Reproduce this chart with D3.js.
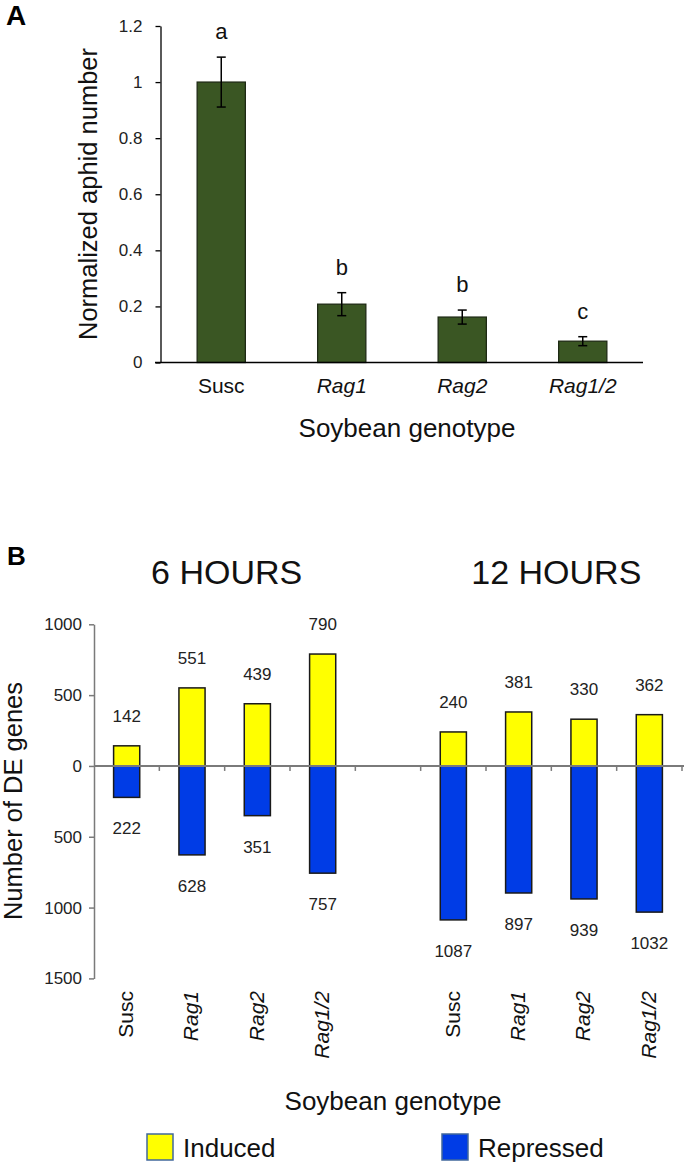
<!DOCTYPE html>
<html>
<head>
<meta charset="utf-8">
<script src="https://cdn.jsdelivr.net/npm/d3@7"></script>
<style>
  html, body { margin: 0; padding: 0; background: #ffffff; }
  svg { display: block; font-family: "Liberation Sans", Arial, sans-serif; }
</style>
</head>
<body>
<script>
// ---------- Panel A data ----------
const catsA = ["Susc", "Rag1", "Rag2", "Rag1/2"];
const italicA = [false, true, true, true];
const meansA = [1.0, 0.208, 0.162, 0.076];
const errA = [0.089, 0.041, 0.025, 0.016];
const lettersA = ["a", "b", "b", "c"];
const ticksA = [0, 0.2, 0.4, 0.6, 0.8, 1.0, 1.2];

// ---------- Panel B data ----------
const catsB = ["Susc", "Rag1", "Rag2", "Rag1/2"];
const italicB = [false, true, true, true];
const groupsB = ["6 HOURS", "12 HOURS"];
const induced6 = [142, 551, 439, 790];
const repressed6 = [222, 628, 351, 757];
const induced12 = [240, 381, 330, 362];
const repressed12 = [1087, 897, 939, 1032];
const ticksB = [1000, 500, 0, -500, -1000, -1500];
const legendB = ["Induced", "Repressed"];

const W = 685, H = 1165;
const svg = d3.select("body").append("svg").attr("width", W).attr("height", H);

// ================= PANEL A =================
const xA = d3.scaleBand().domain(catsA).range([161, 643]).paddingInner(0.6).paddingOuter(0.3);
const yA = d3.scaleLinear().domain([0, 1.2]).range([362.5, 26]);

svg.append("text").attr("x", 6).attr("y", 25).attr("font-size", 28).attr("font-weight", "bold").attr("fill", "#000").text("A");

const gA = svg.append("g");
const axA = gA.append("g").attr("transform", "translate(160.5,0)")
  .call(d3.axisLeft(yA).tickValues(ticksA).tickSize(5).tickSizeOuter(0).tickPadding(13)
    .tickFormat(d => d3.format("~g")(d)));
axA.attr("font-size", null).attr("font-family", null);
axA.selectAll("path, line").attr("stroke", "#000").attr("stroke-width", 1.3);
axA.selectAll("text").style("font-size", "17px").attr("fill", "#222");

const dataA = catsA.map((c, i) => ({ c, v: meansA[i], e: errA[i], l: lettersA[i], it: italicA[i] }));

gA.selectAll("rect.bar").data(dataA).join("rect")
  .attr("x", d => xA(d.c)).attr("width", xA.bandwidth())
  .attr("y", d => yA(d.v)).attr("height", d => yA(0) - yA(d.v))
  .attr("fill", "#3a5623").attr("stroke", "#1e2a14").attr("stroke-width", 1.3);

// x axis line
gA.append("line").attr("x1", 155).attr("x2", 643).attr("y1", yA(0)).attr("y2", yA(0))
  .attr("stroke", "#000").attr("stroke-width", 1.3);

// error bars
const cap = 4.5;
dataA.forEach(d => {
  const cx = xA(d.c) + xA.bandwidth() / 2;
  gA.append("line").attr("x1", cx).attr("x2", cx).attr("y1", yA(d.v + d.e)).attr("y2", yA(d.v - d.e)).attr("stroke", "#000").attr("stroke-width", 1.5);
  gA.append("line").attr("x1", cx - cap).attr("x2", cx + cap).attr("y1", yA(d.v + d.e)).attr("y2", yA(d.v + d.e)).attr("stroke", "#000").attr("stroke-width", 1.5);
  gA.append("line").attr("x1", cx - cap).attr("x2", cx + cap).attr("y1", yA(d.v - d.e)).attr("y2", yA(d.v - d.e)).attr("stroke", "#000").attr("stroke-width", 1.5);
  gA.append("text").attr("x", cx).attr("y", yA(d.v + d.e) - 18).attr("text-anchor", "middle")
    .attr("font-size", 22).attr("fill", "#111").text(d.l);
  gA.append("text").attr("x", cx).attr("y", 393).attr("text-anchor", "middle")
    .attr("font-size", 21).attr("font-style", d.it ? "italic" : "normal").attr("fill", "#111").text(d.c);
});

gA.append("text").attr("transform", "translate(97,194) rotate(-90)").attr("text-anchor", "middle")
  .attr("font-size", 25.5).attr("fill", "#111").text("Normalized aphid number");
gA.append("text").attr("x", 407).attr("y", 437).attr("text-anchor", "middle")
  .attr("font-size", 26).attr("fill", "#111").text("Soybean genotype");

// ================= PANEL B =================
svg.append("text").attr("x", 7).attr("y", 565).attr("font-size", 26).attr("font-weight", "bold").attr("fill", "#000").text("B");

const slots = [];
catsB.forEach((c, i) => slots.push({ key: "6-" + c, c, it: italicB[i], ind: induced6[i], rep: repressed6[i] }));
slots.push({ key: "gap", c: null });
catsB.forEach((c, i) => slots.push({ key: "12-" + c, c, it: italicB[i], ind: induced12[i], rep: repressed12[i] }));

const xB = d3.scaleBand().domain(slots.map(s => s.key)).range([94, 682]).paddingInner(0.6).paddingOuter(0.3);
const yB = d3.scaleLinear().domain([-1500, 1000]).range([978.4, 624.3]);
const stepB = xB.step();

const gB = svg.append("g");

// group titles
const firstGroup = slots.slice(0, 4).map(s => s.key);
const secondGroup = slots.slice(5).map(s => s.key);
const gCenter = keys => (xB(keys[0]) - xB.paddingInner() * stepB / 2 + xB(keys[keys.length - 1]) + xB.bandwidth() + xB.paddingInner() * stepB / 2) / 2;
gB.append("text").attr("x", gCenter(firstGroup) + 2).attr("y", 584).attr("text-anchor", "middle")
  .attr("font-size", 34).attr("fill", "#111").text(groupsB[0]);
gB.append("text").attr("x", gCenter(secondGroup) + 5).attr("y", 584).attr("text-anchor", "middle")
  .attr("font-size", 34).attr("fill", "#111").text(groupsB[1]);

// y axis
const axB = gB.append("g").attr("transform", "translate(94,0)")
  .call(d3.axisLeft(yB).tickValues(ticksB).tickSize(5).tickSizeOuter(0).tickPadding(7)
    .tickFormat(d => Math.abs(d)));
axB.attr("font-size", null).attr("font-family", null);
axB.selectAll("path, line").attr("stroke", "#7a7a7a").attr("stroke-width", 1.5);
axB.selectAll("text").style("font-size", "17px").attr("fill", "#222");

const barSlots = slots.filter(s => s.c !== null);

// bars
gB.selectAll("rect.ind").data(barSlots).join("rect")
  .attr("x", d => xB(d.key)).attr("width", xB.bandwidth())
  .attr("y", d => yB(d.ind)).attr("height", d => yB(0) - yB(d.ind))
  .attr("fill", "#ffff00").attr("stroke", "#1a1a1a").attr("stroke-width", 1.5);
gB.selectAll("rect.rep").data(barSlots).join("rect")
  .attr("x", d => xB(d.key)).attr("width", xB.bandwidth())
  .attr("y", yB(0)).attr("height", d => yB(-d.rep) - yB(0))
  .attr("fill", "#003ce6").attr("stroke", "#1a1a1a").attr("stroke-width", 1.5);

// zero line and boundary ticks
gB.append("line").attr("x1", 94).attr("x2", 684).attr("y1", yB(0)).attr("y2", yB(0))
  .attr("stroke", "#7a7a7a").attr("stroke-width", 2);
slots.forEach(s => {
  const bx = xB(s.key) + xB.bandwidth() + xB.paddingInner() * stepB / 2;
  gB.append("line").attr("x1", bx).attr("x2", bx).attr("y1", yB(0)).attr("y2", yB(0) + 5)
    .attr("stroke", "#7a7a7a").attr("stroke-width", 1.5);
});

// value labels
barSlots.forEach(d => {
  const cx = xB(d.key) + xB.bandwidth() / 2;
  gB.append("text").attr("x", cx).attr("y", yB(d.ind) - 24).attr("text-anchor", "middle")
    .attr("font-size", 17).attr("fill", "#222").text(d.ind);
  gB.append("text").attr("x", cx).attr("y", yB(-d.rep) + 37).attr("text-anchor", "middle")
    .attr("font-size", 17).attr("fill", "#222").text(d.rep);
  gB.append("text").attr("transform", `translate(${cx},991) rotate(-90)`).attr("text-anchor", "end")
    .attr("dy", "0.3em").attr("font-size", 21).attr("font-style", d.it ? "italic" : "normal")
    .attr("fill", "#111").text(d.c);
});

gB.append("text").attr("transform", "translate(22,801) rotate(-90)").attr("text-anchor", "middle")
  .attr("font-size", 25.5).attr("fill", "#111").text("Number of DE genes");
gB.append("text").attr("x", 393).attr("y", 1110).attr("text-anchor", "middle")
  .attr("font-size", 26).attr("fill", "#111").text("Soybean genotype");

// legend
const legColors = ["#ffff00", "#003ce6"];
const legX = [147, 442];
legendB.forEach((t, i) => {
  gB.append("rect").attr("x", legX[i]).attr("y", 1134).attr("width", 26).attr("height", 26)
    .attr("fill", legColors[i]).attr("stroke", "#41689c").attr("stroke-width", 1.5);
  gB.append("text").attr("x", legX[i] + 36).attr("y", 1157).attr("font-size", 26).attr("fill", "#111").text(t);
});
</script>
</body>
</html>
